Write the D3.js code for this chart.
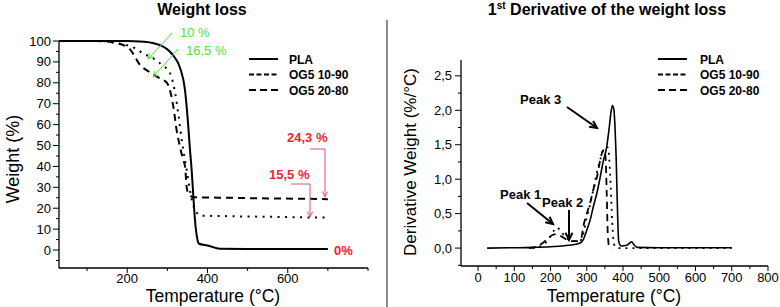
<!DOCTYPE html>
<html><head><meta charset="utf-8">
<script src="https://cdn.jsdelivr.net/npm/d3@7"></script>
<style>body{margin:0;background:#fff}svg{display:block;font-family:"Liberation Sans",Arial,sans-serif}</style>
</head><body><svg id="c" width="780" height="307"></svg>
<script>
// ---- Left: weight loss (TGA) ----
const plaT  = [30,100,200,232,260,282,300,315,332,344,351,356,361,365,369,374,379,400,431,500,600,700];
const plaW  = [100,100,100,99.8,99.2,98,96,93,87,76.5,62,49,37,25,14,6,3,2.2,0.6,0.5,0.5,0.5];
const og1090T = [30,120,150,170,200,220,240,262,287,307,319,328,336,344,351,356,361,367,375,381,450,550,650,700];
const og1090W = [100,100,99.8,99,98,96.5,94,92,88.5,84.5,75.5,64,52.6,43,35,29,24,20,17.5,16.5,16.2,15.9,15.6,15.5];
const og2080T = [30,120,150,175,207,232,257,282,299,315,323,332,338,344,349,355,361,366,450,550,650,700];
const og2080W = [100,100,99.7,99,96,88.5,85,82,80,68.5,57.5,49,44,40,29,26.5,25.5,25.3,25,24.7,24.5,24.3];
const leftYTicks = [0,10,20,30,40,50,60,70,80,90,100];
const leftXLabels = [200,400,600];

// ---- Right: first derivative (DTG) ----
const dPlaT = [25,100,150,200,250,280,290,300,310,318,328,336,345,355,362,367,371,375,378,381,385,388,395,410,418,424,430,440,500,600,700];
const dPlaV = [0,0.005,0.01,0.02,0.04,0.07,0.12,0.26,0.42,0.6,0.8,1.0,1.25,1.47,1.75,1.98,2.07,2.0,1.75,1.33,0.5,0.1,0.03,0.04,0.07,0.09,0.05,0.01,0.005,0.005,0.005];
const d1090T = [150,170,185,200,210,217,225,235,245,255,265,280,290,300,310,318,328,338,345,352,358,362,366,370,374,378,385,400,500,600,700];
const d1090V = [0,0.02,0.07,0.17,0.26,0.3,0.27,0.2,0.14,0.11,0.1,0.1,0.2,0.45,0.65,0.85,1.1,1.3,1.42,1.46,1.46,1.3,0.9,0.4,0.1,0.02,0,0,0,0,0];
const d2080T = [140,160,180,195,210,220,230,245,260,275,285,290,300,309,318,328,336,342,348,352,355,358,362,370];
const d2080V = [0,0.02,0.08,0.15,0.2,0.2,0.17,0.12,0.1,0.1,0.15,0.3,0.5,0.65,0.85,1.03,1.25,1.38,1.43,1.3,0.8,0.2,0.02,0];
const rightYTicks = [0,0.5,1.0,1.5,2.0,2.5];
const rightXTicks = [0,100,200,300,400,500,600,700,800];

const seriesNames = ["PLA","OG5 10-90","OG5 20-80"];

const svg = d3.select("#c");

function zip(a,b){return a.map((v,i)=>[v,b[i]]);}

function arrow(g, x1,y1,x2,y2,color,w,head){
  g.append("line").attr("x1",x1).attr("y1",y1).attr("x2",x2).attr("y2",y2)
    .attr("stroke",color).attr("stroke-width",w);
  const a = Math.atan2(y2-y1,x2-x1), s=0.45;
  const p = [[x2-head*Math.cos(a-s),y2-head*Math.sin(a-s)],[x2,y2],[x2-head*Math.cos(a+s),y2-head*Math.sin(a+s)]];
  g.append("path").attr("d",d3.line()(p)).attr("fill","none").attr("stroke",color).attr("stroke-width",w);
}

// ================= LEFT =================
const xL = d3.scaleLinear().domain([30,800]).range([59,368]);
const yL = d3.scaleLinear().domain([-8.6,100]).range([268,41]);
const gL = svg.append("g");

gL.append("line").attr("x1",59).attr("x2",59).attr("y1",yL(100)).attr("y2",268).attr("stroke","#000").attr("stroke-width",1.3);
gL.append("line").attr("x1",59).attr("x2",368).attr("y1",268).attr("y2",268).attr("stroke","#000").attr("stroke-width",1.3);
d3.range(-5,101,5).forEach(v=>{
  const major = v%10===0;
  gL.append("line").attr("x1",59).attr("x2",major?53:56).attr("y1",yL(v)).attr("y2",yL(v)).attr("stroke","#000").attr("stroke-width",1);
});
leftYTicks.forEach(v=>{
  gL.append("text").attr("x",51).attr("y",yL(v)+4.5).attr("text-anchor","end").attr("font-size",13).text(v);
});
d3.range(100,801,100).forEach(v=>{
  const major = leftXLabels.includes(v);
  gL.append("line").attr("x1",xL(v)).attr("x2",xL(v)).attr("y1",268).attr("y2",major?273:271).attr("stroke","#000").attr("stroke-width",1);
});
leftXLabels.forEach(v=>{
  gL.append("text").attr("x",xL(v)).attr("y",283).attr("text-anchor","middle").attr("font-size",13).text(v);
});
gL.append("text").attr("x",213).attr("y",302).attr("text-anchor","middle").attr("font-size",17.5).text("Temperature (°C)");
gL.append("text").attr("transform","translate(19,159) rotate(-90)").attr("text-anchor","middle").attr("font-size",18).text("Weight (%)");
gL.append("text").attr("x",202).attr("y",15).attr("text-anchor","middle").attr("font-size",16).attr("font-weight","bold").text("Weight loss");

const lineL = d3.line().x(d=>xL(d[0])).y(d=>yL(d[1])).curve(d3.curveMonotoneX);
gL.append("path").attr("d",lineL(zip(og2080T,og2080W))).attr("fill","none").attr("stroke","#000").attr("stroke-width",2).attr("stroke-dasharray","7,5");
gL.append("path").attr("d",lineL(zip(og1090T,og1090W))).attr("fill","none").attr("stroke","#000").attr("stroke-width",2).attr("stroke-dasharray","2,5.5");
gL.append("path").attr("d",lineL(zip(plaT,plaW))).attr("fill","none").attr("stroke","#000").attr("stroke-width",2);

const dashes = [null,"5,2.5","7,4"];
seriesNames.forEach((n,i)=>{
  const y = 59 + i*15.5;
  const l = gL.append("line").attr("x1",249).attr("x2",278).attr("y1",y).attr("y2",y).attr("stroke","#000").attr("stroke-width",2);
  if(dashes[i]) l.attr("stroke-dasharray",dashes[i]);
  gL.append("text").attr("x",289).attr("y",y+4.5).attr("font-size",12).attr("font-weight","bold").text(n);
});

const green = "#55dd33";
gL.append("text").attr("x",180).attr("y",37).attr("font-size",13).attr("fill",green).text("10 %");
gL.append("text").attr("x",186).attr("y",55).attr("font-size",13).attr("fill",green).text("16,5 %");
arrow(gL,172,33,148,59,green,1,6);
arrow(gL,178,49,153,77,green,1,6);

const red = "#f0242e", redLine = "#e2507c";
gL.append("text").attr("x",287).attr("y",142).attr("font-size",13).attr("font-weight","bold").attr("fill",red).text("24,3 %");
gL.append("text").attr("x",269).attr("y",179).attr("font-size",13).attr("font-weight","bold").attr("fill",red).text("15,5 %");
gL.append("text").attr("x",334).attr("y",255).attr("font-size",13).attr("font-weight","bold").attr("fill",red).text("0%");
gL.append("path").attr("d","M310,149H325").attr("stroke",redLine).attr("fill","none").attr("stroke-width",1);
arrow(gL,325,149,325,197,redLine,1,6);
gL.append("path").attr("d","M291,184H310").attr("stroke",redLine).attr("fill","none").attr("stroke-width",1);
arrow(gL,310,184,310,217,redLine,1,6);

svg.append("line").attr("x1",387).attr("x2",387).attr("y1",20).attr("y2",307).attr("stroke","#666").attr("stroke-width",1.5);

// ================= RIGHT =================
const xR = d3.scaleLinear().domain([-47,800]).range([461,768]);
const yR = d3.scaleLinear().domain([-0.26,2.73]).range([266,60]);
const gR = svg.append("g");
gR.append("line").attr("x1",461).attr("x2",461).attr("y1",60).attr("y2",266).attr("stroke","#000").attr("stroke-width",1.3);
gR.append("line").attr("x1",461).attr("x2",768).attr("y1",266).attr("y2",266).attr("stroke","#000").attr("stroke-width",1.3);
d3.range(-0.25,2.75,0.25).forEach(v=>{
  const major = Math.abs(v*2-Math.round(v*2))<1e-6;
  gR.append("line").attr("x1",461).attr("x2",major?455:458).attr("y1",yR(v)).attr("y2",yR(v)).attr("stroke","#000").attr("stroke-width",1);
});
rightYTicks.forEach(v=>{
  gR.append("text").attr("x",452).attr("y",yR(v)+4.5).attr("text-anchor","end").attr("font-size",13).text(v.toFixed(1).replace(".",","));
});
d3.range(0,801,50).forEach(v=>{
  const major = v%100===0;
  gR.append("line").attr("x1",xR(v)).attr("x2",xR(v)).attr("y1",266).attr("y2",major?271:269).attr("stroke","#000").attr("stroke-width",1);
});
rightXTicks.forEach(v=>{
  gR.append("text").attr("x",xR(v)).attr("y",282).attr("text-anchor","middle").attr("font-size",13).text(v);
});
gR.append("text").attr("x",614).attr("y",302).attr("text-anchor","middle").attr("font-size",17.5).text("Temperature (°C)");
gR.append("text").attr("transform","translate(416,162) rotate(-90)").attr("text-anchor","middle").attr("font-size",17).text("Derivative Weight (%/°C)");
const tt = gR.append("text").attr("x",607).attr("y",15).attr("text-anchor","middle").attr("font-size",16).attr("font-weight","bold");
tt.append("tspan").text("1");
tt.append("tspan").attr("font-size",10).attr("dy",-6).text("st");
tt.append("tspan").attr("dy",6).text(" Derivative of the weight loss");

const lineR = d3.line().x(d=>xR(d[0])).y(d=>yR(d[1])).curve(d3.curveMonotoneX);
gR.append("path").attr("d",lineR(zip(d2080T,d2080V))).attr("fill","none").attr("stroke","#000").attr("stroke-width",1.8).attr("stroke-dasharray","7,5");
gR.append("path").attr("d",lineR(zip(d1090T,d1090V))).attr("fill","none").attr("stroke","#000").attr("stroke-width",1.8).attr("stroke-dasharray","2,5");
gR.append("path").attr("d",lineR(zip(dPlaT,dPlaV))).attr("fill","none").attr("stroke","#000").attr("stroke-width",1.6);

seriesNames.forEach((n,i)=>{
  const y = 59 + i*15.5;
  const l = gR.append("line").attr("x1",658).attr("x2",687).attr("y1",y).attr("y2",y).attr("stroke","#000").attr("stroke-width",2);
  if(dashes[i]) l.attr("stroke-dasharray",dashes[i]);
  gR.append("text").attr("x",700).attr("y",y+4.5).attr("font-size",12).attr("font-weight","bold").text(n);
});

gR.append("text").attr("x",520).attr("y",104).attr("font-size",13).attr("font-weight","bold").text("Peak 3");
arrow(gR,567,107,597,128,"#000",2,8);
gR.append("text").attr("x",500).attr("y",199).attr("font-size",13).attr("font-weight","bold").text("Peak 1");
arrow(gR,527,203,553,224,"#000",2,8);
gR.append("text").attr("x",542).attr("y",207).attr("font-size",13).attr("font-weight","bold").text("Peak 2");
arrow(gR,569,210,569,240,"#000",2,8);
</script></body></html>
